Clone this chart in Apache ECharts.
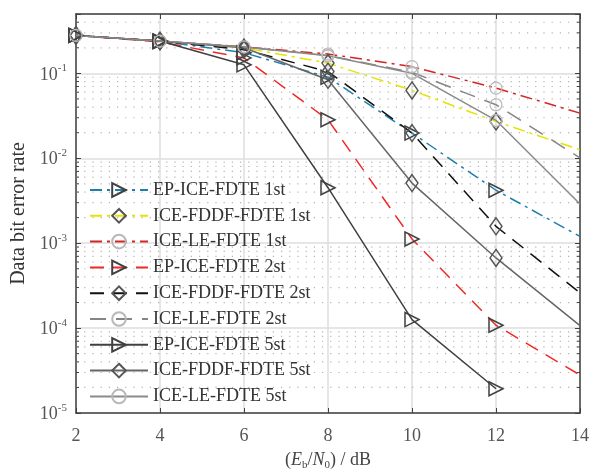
<!DOCTYPE html>
<html>
<head>
<meta charset="utf-8">
<script src="https://cdn.jsdelivr.net/npm/echarts@6/dist/echarts.min.js"></script>
<style>html,body{margin:0;background:#fff}#main{width:592px;height:476px}</style>
</head>
<body>
<div id="main"></div>
<script>
// Eb/N0 in dB
const snr = [2, 4, 6, 8, 10, 12, 14]
// bit error rate per receiver / iteration
const epIce1 = [0.28, 0.24, 0.175, 0.09, 0.0198, 0.0042, 0.0012]
const iceFddf1 = [0.28, 0.24, 0.2, 0.132, 0.063, 0.0271, 0.0126]
const iceLe1 = [0.28, 0.24, 0.205, 0.169, 0.12, 0.067, 0.034]
const epIce2 = [0.28, 0.235, 0.152, 0.0284, 0.00112, 1.08e-4, 2.8e-5]
const iceFddf2 = [0.28, 0.24, 0.19, 0.105, 0.0198, 0.00158, 2.6e-4]
const iceLe2 = [0.28, 0.24, 0.205, 0.162, 0.103, 0.0427, 0.0101]
const epIce5 = [0.28, 0.24, 0.126, 0.0045, 1.26e-4, 1.93e-5, null]
const iceFddf5 = [0.28, 0.24, 0.2, 0.084, 0.0051, 6.7e-4, 1.07e-4]
const iceLe5 = [0.28, 0.24, 0.205, 0.161, 0.1, 0.028, 0.0029]
const names = ['EP-ICE-FDTE 1st', 'ICE-FDDF-FDTE 1st', 'ICE-LE-FDTE 1st',
  'EP-ICE-FDTE 2st', 'ICE-FDDF-FDTE 2st', 'ICE-LE-FDTE 2st',
  'EP-ICE-FDTE 5st', 'ICE-FDDF-FDTE 5st', 'ICE-LE-FDTE 5st']

const serif = 'Liberation Serif'
const dashDot = [12, 5, 3, 5]

// marker looks
const tri = { symbol: 'triangle', symbolRotate: -90, symbolSize: 14, itemStyle: { color: 'rgba(255,255,255,0)', borderColor: '#404040', borderWidth: 1.5 } }
const dia = { symbol: 'diamond', symbolSize: [12, 17], itemStyle: { color: 'rgba(255,255,255,0)', borderColor: '#555', borderWidth: 1.5 } }
const cir = { symbol: 'circle', symbolSize: 12, itemStyle: { color: 'rgba(255,255,255,0)', borderColor: '#b8b8b8', borderWidth: 1.2 } }

function mk (name, vals, color, type, mark) {
  const data = []
  vals.forEach((v, i) => {
    if (v == null) return
    // no marker on the last column
    if (snr[i] === 14) data.push({ value: [snr[i], v], symbol: 'none' })
    else data.push([snr[i], v])
  })
  return Object.assign({
    name: name,
    type: 'line',
    data: data,
    lineStyle: { color: color, width: 1.5, type: type },
    emphasis: { disabled: true },
    animation: false
  }, mark)
}

// dotted minor grid for the log axis (2..9 x 10^n)
const minorVals = []
for (let e = -5; e <= -1; e++) {
  for (let m = 2; m <= 9; m++) {
    const v = m * Math.pow(10, e)
    if (v < 0.5) minorVals.push([2, v])
  }
}

const chart = echarts.init(document.getElementById('main'))
chart.setOption({
  animation: false,
  grid: { left: 76, right: 7, top: 14, bottom: 61 },
  legend: {
    orient: 'vertical',
    left: 84,
    top: 176,
    itemWidth: 58,
    itemHeight: 17,
    itemGap: 7.8,
    textStyle: { fontFamily: serif, fontSize: 18, color: '#333' },
    data: names
  },
  xAxis: [{
    type: 'value', min: 2, max: 14, interval: 2,
    name: '{p|(}{i|E}{sub|b}{p|/}{i|N}{sub|0}{p|) / dB}',
    nameLocation: 'middle', nameGap: 37,
    nameTextStyle: {
      rich: {
        p: { fontFamily: serif, fontSize: 18, color: '#444' },
        i: { fontFamily: serif, fontSize: 18, fontStyle: 'italic', color: '#444' },
        sub: { fontFamily: serif, fontSize: 11, color: '#444', verticalAlign: 'bottom', padding: [10, 0, 0, 0] }
      }
    },
    axisLine: { lineStyle: { color: '#404040', width: 1.5 } },
    axisTick: { inside: true, length: 5, lineStyle: { color: '#404040' } },
    axisLabel: { fontFamily: serif, fontSize: 18, color: '#555', margin: 14 },
    splitLine: { lineStyle: { color: '#dedede', width: 1.5 } }
  }, {
    type: 'value', min: 2, max: 14, interval: 2, position: 'top',
    axisLine: { lineStyle: { color: '#404040', width: 1.5 } },
    axisTick: { inside: true, length: 5, lineStyle: { color: '#404040' } },
    axisLabel: { show: false },
    splitLine: { show: false }
  }],
  yAxis: [{
    type: 'log', logBase: 10, min: 1e-5, max: 0.5,
    name: 'Data bit error rate',
    nameLocation: 'middle', nameGap: 40,
    nameTextStyle: { fontFamily: serif, fontSize: 20, color: '#333' },
    axisLine: { lineStyle: { color: '#404040', width: 1.5 } },
    axisTick: { inside: true, length: 5, lineStyle: { color: '#404040' } },
    axisLabel: {
      margin: 9,
      formatter: function (v) {
        const e = Math.log10(v)
        if (Math.abs(e - Math.round(e)) > 1e-6) return ''
        return '{b|10}{s|' + Math.round(e) + '}'
      },
      rich: {
        b: { fontFamily: serif, fontSize: 18, color: '#555', verticalAlign: 'bottom' },
        s: { fontFamily: serif, fontSize: 11, color: '#555', verticalAlign: 'top', padding: [0, 0, 10, 0] }
      }
    },
    splitLine: { lineStyle: { color: '#dedede', width: 1.5 } }
  }, {
    type: 'log', logBase: 10, min: 1e-5, max: 0.5, position: 'right',
    axisLine: { lineStyle: { color: '#404040', width: 1.5 } },
    axisTick: { inside: true, length: 5, lineStyle: { color: '#404040' } },
    axisLabel: { show: false },
    splitLine: { show: false }
  }],
  series: [
    {
      type: 'custom',
      silent: true,
      z: 1,
      data: minorVals,
      renderItem: function (params, api) {
        const cs = params.coordSys
        const y = api.coord([api.value(0), api.value(1)])[1]
        const r = cs.x + cs.width
        return {
          type: 'group',
          children: [
            { type: 'line', shape: { x1: cs.x, y1: y, x2: r, y2: y }, style: { stroke: '#b4b4b4', lineWidth: 1.2, lineDash: [1.2, 7] } },
            { type: 'line', shape: { x1: cs.x, y1: y, x2: cs.x + 3, y2: y }, style: { stroke: '#404040', lineWidth: 1 } },
            { type: 'line', shape: { x1: r - 3, y1: y, x2: r, y2: y }, style: { stroke: '#404040', lineWidth: 1 } }
          ]
        }
      }
    },
    mk(names[0], epIce1, '#1f7fab', dashDot, tri),
    mk(names[1], iceFddf1, '#e4e400', dashDot, dia),
    mk(names[2], iceLe1, '#d42424', dashDot, cir),
    mk(names[3], epIce2, '#f02828', [14, 9], tri),
    mk(names[4], iceFddf2, '#111111', [14, 9], dia),
    mk(names[5], iceLe2, '#858585', [16, 10], cir),
    mk(names[6], epIce5, '#404040', 'solid', tri),
    mk(names[7], iceFddf5, '#666666', 'solid', dia),
    mk(names[8], iceLe5, '#8a8a8a', 'solid', cir)
  ]
})
</script>
</body>
</html>
